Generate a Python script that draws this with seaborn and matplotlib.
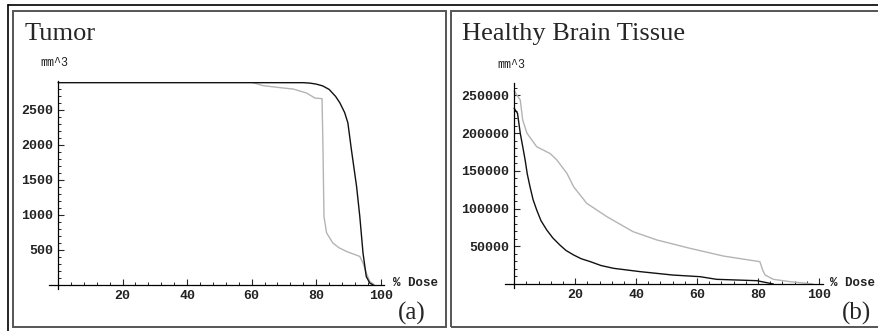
import numpy as np
import pandas as pd
import seaborn as sns
import matplotlib.pyplot as plt
from matplotlib.patches import Rectangle
from matplotlib.lines import Line2D
from matplotlib.ticker import FixedLocator, MultipleLocator

# dose-volume histograms
tumor_black_dose = [0, 76, 78, 80, 82, 84, 86, 87.3, 88.8, 89.8, 90.9, 92.5, 93.5, 94.5, 95.5, 96.6, 97.6]
tumor_black_vol = [2886, 2886, 2880, 2866, 2840, 2790, 2690, 2600, 2460, 2314, 1929, 1405, 976, 452, 119, 24, 0]

tumor_gray_dose = [60.4, 63.6, 69.8, 72.9, 77, 79.6, 81.8, 82.1, 82.4, 83.2, 85.1, 87, 89.4, 93.5, 94.5, 95.5, 96.6, 98]
tumor_gray_vol = [2886, 2843, 2810, 2795, 2738, 2667, 2657, 1930, 976, 743, 600, 530, 476, 405, 310, 170, 48, 0]

brain_black_dose = [0, 0.5, 1.1, 2, 3, 3.6, 4.3, 5.2, 6.2, 7.4, 8.8, 10.7, 12.7, 15, 17, 19.5, 22, 25, 28.5,
                    32.6, 41.3, 52, 61, 66.4, 79.6, 82.8, 85]
brain_black_vol = [233000, 230000, 226400, 200000, 178000, 164500, 146000, 129000, 112000, 98100, 84000,
                   71600, 61000, 51700, 44500, 38500, 33500, 29600, 24500, 20800, 16400, 11900, 9700, 6200,
                   4400, 1800, 0]

brain_gray_dose = [0, 1, 2, 2.8, 4.2, 7.4, 11.8, 14, 17.3, 19.5, 23.8, 30.4, 39, 46.8, 57.7, 68.6, 80.6,
                   81.5, 82.3, 85, 90.5, 96, 98]
brain_gray_vol = [256000, 250000, 244000, 217500, 200000, 182000, 173000, 164500, 146800, 129000, 107000,
                  89300, 69400, 58400, 47300, 37100, 29600, 18600, 12000, 6200, 3100, 900, 0]

x_labels = [20, 40, 60, 80, 100]
tumor_yticks = [500, 1000, 1500, 2000, 2500]
brain_yticks = [50000, 100000, 150000, 200000, 250000]

W, H = 879, 331
sns.set_style("white")
plt.rcParams['font.family'] = ['Liberation Mono', 'DejaVu Sans']

fig = plt.figure(figsize=(W / 100, H / 100), dpi=100)


def fx(x):
    return x / W


def fy(y):
    return 1 - y / H


# frames
fig.add_artist(Line2D([fx(8), fx(8)], [fy(5), fy(331)], color='black', lw=1.2))
fig.add_artist(Line2D([fx(8), fx(879)], [fy(5), fy(5)], color='black', lw=1.2))
for x0, x1 in [(13, 446), (451, 890)]:
    fig.add_artist(Rectangle((fx(x0), fy(327)), fx(x1 - x0), (327 - 11) / H, fill=False,
                             edgecolor='#555555', lw=1.4))


def make_panel(rect, xlim, ylim, yticks, yminor, black, gray):
    ax = fig.add_axes(rect)
    ax.patch.set_alpha(0)
    sns.lineplot(x=gray[0], y=gray[1], ax=ax, color='#b4b4b4', lw=1.0, estimator=None, sort=False)
    sns.lineplot(x=black[0], y=black[1], ax=ax, color='#111111', lw=1.0, estimator=None, sort=False)
    ax.set_xlim(*xlim)
    ax.set_ylim(*ylim)
    for s in ['top', 'right']:
        ax.spines[s].set_visible(False)
    for s in ['left', 'bottom']:
        ax.spines[s].set_position(('data', 0))
        ax.spines[s].set_color('black')
        ax.spines[s].set_linewidth(0.9)
    ax.xaxis.set_major_locator(FixedLocator(x_labels))
    ax.xaxis.set_minor_locator(MultipleLocator(4))
    ax.yaxis.set_major_locator(FixedLocator(yticks))
    ax.yaxis.set_minor_locator(MultipleLocator(yminor))
    ax.set_xticklabels([str(v) for v in x_labels], fontweight='bold', color='#222222')
    ax.set_yticklabels([str(v) for v in yticks], fontweight='bold', color='#222222')
    ax.tick_params(which='major', direction='in', length=4, width=0.8, labelsize=9.5, pad=3.5,
                   bottom=True, left=True)
    ax.tick_params(which='minor', direction='in', length=2, width=0.7, bottom=True, left=True)
    ax.set_xlabel('')
    ax.set_ylabel('')
    return ax


ax1 = make_panel([fx(49), fy(289), 335 / W, 208 / H], (-2.8, 101), (-60, 2910),
                 tumor_yticks, 100, (tumor_black_dose, tumor_black_vol), (tumor_gray_dose, tumor_gray_vol))
ax2 = make_panel([fx(505), fy(288), 318 / W, 204.6 / H], (-3, 101.3), (-5300, 266000),
                 brain_yticks, 10000, (brain_black_dose, brain_black_vol), (brain_gray_dose, brain_gray_vol))

serif = ['Liberation Serif', 'DejaVu Serif']
fig.text(fx(25), fy(40), 'Tumor', family=serif, fontsize=19, va='baseline')
fig.text(fx(462), fy(40), 'Healthy Brain Tissue', family=serif, fontsize=19, va='baseline')
fig.text(fx(40), fy(63), 'mm^3', fontsize=8.5, va='center', color='#222222')
fig.text(fx(497), fy(65), 'mm^3', fontsize=8.5, va='center', color='#222222')
fig.text(fx(393), fy(283), '% Dose', fontsize=9, fontweight='bold', va='center', color='#222222')
fig.text(fx(830), fy(283), '% Dose', fontsize=9, fontweight='bold', va='center', color='#222222')
fig.text(fx(398), fy(313), '(a)', family=serif, fontsize=18, va='center')
fig.text(fx(842), fy(313), '(b)', family=serif, fontsize=18, va='center')

fig.savefig('out.png', dpi=100)
